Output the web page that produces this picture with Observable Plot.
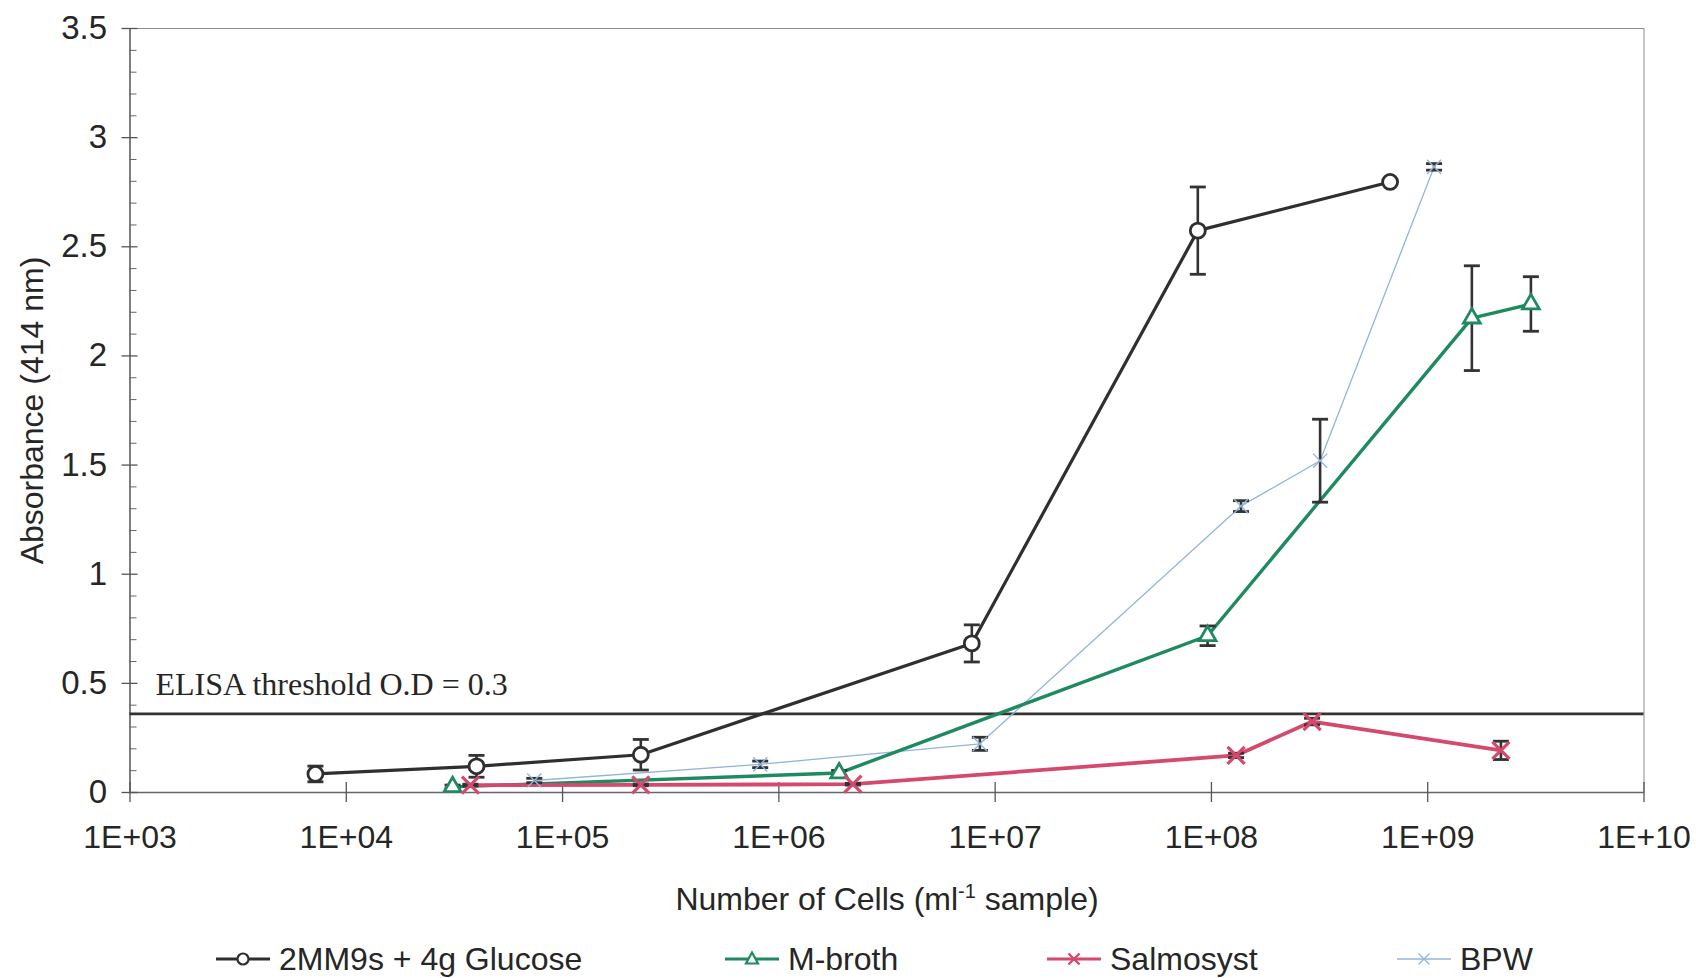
<!DOCTYPE html>
<html>
<head>
<meta charset="utf-8">
<script src="https://cdn.jsdelivr.net/npm/d3@7"></script>
<script src="https://cdn.jsdelivr.net/npm/@observablehq/plot@0.6"></script>
<style>
  html, body { margin: 0; padding: 0; background: #fff; }
  #wrap { position: relative; width: 1696px; height: 978px; overflow: hidden;
          font-family: "Liberation Sans", Arial, sans-serif; color: #262626; }
  #chart { position: absolute; left: 0; top: 0; }
  #xtitle { position: absolute; left: 487px; width: 800px; top: 883px; text-align: center;
            font-size: 32px; line-height: 32px; white-space: nowrap; }
  #xtitle sup { font-size: 20px; vertical-align: 0; position: relative; top: -12px; }
  .leg { position: absolute; top: 943px; height: 32px; display: flex; align-items: center;
         font-size: 32px; line-height: 32px; white-space: nowrap; }
  .leg svg { margin-right: 7px; }
</style>
</head>
<body>
<div id="wrap">
  <div id="chart"></div>
  <div id="xtitle"></div>
  <div id="legend"></div>
</div>
<script>
// ---------- data ----------
const seriesNames = ["2MM9s + 4g Glucose", "M-broth", "Salmosyst", "BPW"];

const glucoseCells = [7.2e3, 4.0e4, 2.3e5, 7.8e6, 8.65e7, 6.7e8];
const glucoseAbs   = [0.085, 0.12, 0.173, 0.683, 2.574, 2.797];
const glucoseErr   = [0.036, 0.05, 0.07, 0.085, 0.2, 0];

const mbrothCells = [3.1e4, 1.9e6, 9.6e7, 1.6e9, 3.0e9];
const mbrothAbs   = [0.026, 0.089, 0.718, 2.173, 2.238];
const mbrothErr   = [0.008, 0.012, 0.045, 0.24, 0.125];

const salmoCells = [3.75e4, 2.3e5, 2.2e6, 1.3e8, 2.92e8, 2.18e9];
const salmoAbs   = [0.034, 0.035, 0.038, 0.17, 0.325, 0.193];
const salmoErr   = [0.004, 0.004, 0.004, 0.01, 0.015, 0.042];

const bpwCells = [7.4e4, 8.2e5, 8.5e6, 1.37e8, 3.18e8, 1.07e9];
const bpwAbs   = [0.055, 0.129, 0.223, 1.312, 1.52, 2.866];
const bpwErr   = [0.01, 0.015, 0.03, 0.025, 0.19, 0.015];

const xTicks = [1e3, 1e4, 1e5, 1e6, 1e7, 1e8, 1e9, 1e10];
const xTickLabels = ["1E+03", "1E+04", "1E+05", "1E+06", "1E+07", "1E+08", "1E+09", "1E+10"];
const yTicks = [0, 0.5, 1, 1.5, 2, 2.5, 3, 3.5];
const yTickLabels = ["0", "0.5", "1", "1.5", "2", "2.5", "3", "3.5"];
const yMinorTicks = d3.range(0, 35).map(i => i / 10).filter(v => Math.round(v * 10) % 5 !== 0);

const threshold = 0.36;
const thresholdLabel = "ELISA threshold O.D = 0.3";
const yTitle = "Absorbance (414 nm)";

// ---------- build ----------
function rows(name, xs, ys, es) {
  return xs.map((x, i) => ({series: name, x, y: ys[i], err: es[i]}));
}
const data = [
  rows(seriesNames[0], glucoseCells, glucoseAbs, glucoseErr),
  rows(seriesNames[1], mbrothCells, mbrothAbs, mbrothErr),
  rows(seriesNames[2], salmoCells, salmoAbs, salmoErr),
  rows(seriesNames[3], bpwCells, bpwAbs, bpwErr)
];
const errRows = data.flat().filter(d => d.err > 0);

const styles = [
  {color: "#2f2f2f", lw: 3.2, symbol: "circle",   r: 7.5, fill: "#ffffff", mw: 2.8},
  {color: "#1f8a60", lw: 3.4, symbol: "triangle", r: 6.2, fill: "#ffffff", mw: 2.8},
  {color: "#d4496c", lw: 3.8, symbol: "times",    r: 7.8, fill: "none",    mw: 3.2},
  {color: "#93b4db", lw: 1.3, symbol: "times",    r: 6.5, fill: "none",    mw: 1.4}
];

const W = 1696, H = 880, ML = 129.5, MR = 52.5, MT = 28, MB = 88;
const plotW = W - ML - MR, plotH = H - MT - MB;
const capSymbol = {draw(ctx, size) { const r = Math.sqrt(size / Math.PI); ctx.moveTo(-r, 0); ctx.lineTo(r, 0); }};

const lineOrder = [3, 0, 1, 2];

const chart = Plot.plot({
  width: W, height: H,
  marginLeft: ML, marginRight: MR, marginTop: MT, marginBottom: MB,
  style: {fontFamily: "'Liberation Sans', Arial, sans-serif", color: "#262626", background: "#fff"},
  x: {type: "log", domain: [1e3, 1e10]},
  y: {domain: [0, 3.5]},
  marks: [
    Plot.frame({stroke: "#8c8c8c", strokeWidth: 1}),
    Plot.ruleX([1e3], {stroke: "#666", strokeWidth: 1.5}),
    Plot.ruleY([0], {stroke: "#666", strokeWidth: 1.5}),
    Plot.tickY(yMinorTicks, {y: d => d, insetLeft: 0, insetRight: plotW - 7, stroke: "#666", strokeWidth: 1}),
    Plot.tickY(yTicks, {y: d => d, insetLeft: -8, insetRight: plotW - 8, stroke: "#555", strokeWidth: 1.3}),
    Plot.tickX(xTicks, {x: d => d, insetTop: plotH - 10, insetBottom: -10, stroke: "#555", strokeWidth: 1.3}),
    Plot.axisY({ticks: yTicks, tickSize: 0, tickPadding: 23, fontSize: 33, label: null,
                tickFormat: d => yTickLabels[yTicks.indexOf(d)]}),
    Plot.axisX({ticks: xTicks, tickSize: 0, tickPadding: 33, fontSize: 32, label: null,
                tickFormat: d => xTickLabels[xTicks.indexOf(d)]}),
    Plot.text([yTitle], {text: d => d, frameAnchor: "left", rotate: -90, dx: -(ML - 32),
                         fontSize: 32, textAnchor: "middle", lineAnchor: "middle", fill: "#262626"}),
    Plot.ruleY([threshold], {stroke: "#333", strokeWidth: 2.6}),
    Plot.text([threshold], {y: d => d, text: () => thresholdLabel, frameAnchor: "left", dx: 25.5, dy: -19,
                            textAnchor: "start", lineAnchor: "bottom", fontFamily: "'Liberation Serif', 'Times New Roman', serif",
                            fontSize: 32, fill: "#262626"}),
    ...lineOrder.map(i => Plot.line(data[i], {x: "x", y: "y", stroke: styles[i].color, strokeWidth: styles[i].lw})),
    Plot.ruleX(errRows, {x: "x", y1: d => d.y - d.err, y2: d => d.y + d.err, stroke: "#333", strokeWidth: 2.6}),
    Plot.dot(errRows, {x: "x", y: d => d.y + d.err, symbol: capSymbol, r: 8, stroke: "#333", strokeWidth: 2.8}),
    Plot.dot(errRows, {x: "x", y: d => d.y - d.err, symbol: capSymbol, r: 8, stroke: "#333", strokeWidth: 2.8}),
    ...lineOrder.map(i => Plot.dot(data[i], {x: "x", y: "y", symbol: styles[i].symbol, r: styles[i].r,
                                              fill: styles[i].fill, stroke: styles[i].color, strokeWidth: styles[i].mw}))
  ]
});
document.getElementById("chart").appendChild(chart);

// ---------- x title ----------
document.getElementById("xtitle").innerHTML = "Number of Cells (ml<sup>-1</sup> sample)";

// ---------- legend ----------
const legendLeft = [216, 725, 1047, 1397];
const legend = document.getElementById("legend");
seriesNames.forEach((name, i) => {
  const s = styles[i];
  let marker = "";
  if (s.symbol === "circle") marker = `<circle cx="27" cy="16" r="5.5" fill="#fff" stroke="${s.color}" stroke-width="2.2"/>`;
  else if (s.symbol === "triangle") marker = `<path d="M27,9.5 L33,20.5 L21,20.5 Z" fill="#fff" stroke="${s.color}" stroke-width="2.2"/>`;
  else marker = `<path d="M21.5,10.5 L32.5,21.5 M21.5,21.5 L32.5,10.5" stroke="${s.color}" stroke-width="${i === 3 ? 1.4 : 2.4}"/>`;
  const lw = i === 3 ? 1.6 : 2.8;
  const div = document.createElement("div");
  div.className = "leg";
  div.style.left = legendLeft[i] + "px";
  div.innerHTML = `<svg width="56" height="32"><line x1="0" y1="16" x2="54" y2="16" stroke="${s.color}" stroke-width="${lw}"/>${marker}</svg><span>${name}</span>`;
  legend.appendChild(div);
});
</script>
</body>
</html>
